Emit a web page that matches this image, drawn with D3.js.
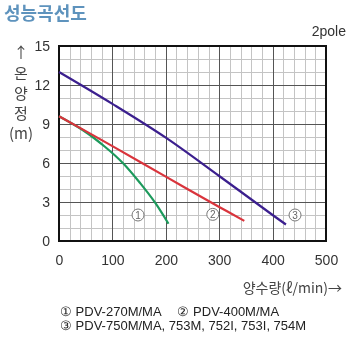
<!DOCTYPE html>
<html>
<head>
<meta charset="utf-8">
<script src="https://cdn.jsdelivr.net/npm/d3@7"></script>
<style>
  body { margin: 0; background: #fff; }
  #chart { position: relative; width: 360px; height: 337px; }
  #chart canvas, #chart svg { position: absolute; left: 0; top: 0; }
  svg { display: block; font-family: "Liberation Sans", Arial, sans-serif; }
</style>
</head>
<body>
<div id="chart"></div>
<script>
// flow (l/min) vs head (m)
const xTicks = [0, 100, 200, 300, 400, 500];
const yTicks = [0, 3, 6, 9, 12, 15];

const flow1 = [0, 45, 86, 120, 152, 180, 205];
const head1 = [9.6, 8.52, 7.25, 5.98, 4.45, 2.95, 1.33];
const flow2 = [0, 100, 200, 300, 347];
const head2 = [9.6, 7.3, 4.95, 2.62, 1.55];
const flow3 = [0, 100, 200, 300, 400, 425];
const head3 = [13, 10.55, 7.95, 5.0, 2.0, 1.27];

const legendRows = [
  '① PDV-270M/MA　 ② PDV-400M/MA',
  '③ PDV-750M/MA, 753M, 752I, 753I, 754M'
];

const W = 360, H = 337;
const plot = { left: 59, right: 326, top: 46, bottom: 241 };

const x = d3.scaleLinear().domain([0, 500]).range([plot.left, plot.right]);
const y = d3.scaleLinear().domain([0, 15]).range([plot.bottom, plot.top]);

// grid goes on a canvas under the svg
const canvas = d3.select('#chart').append('canvas')
    .attr('width', W).attr('height', H)
    .node();
const ctx = canvas.getContext('2d');
ctx.fillStyle = '#fff';
ctx.fillRect(0, 0, W, H);
function gridCanvas(xs, ys, color) {
  ctx.fillStyle = color;
  xs.forEach(v => ctx.fillRect(Math.round(x(v)), plot.top, 1, plot.bottom - plot.top));
  ys.forEach(v => ctx.fillRect(plot.left, Math.round(y(v)), plot.right - plot.left, 1));
}
gridCanvas(d3.range(0, 501, 20), d3.range(0, 16, 1), '#c4c4c4');
gridCanvas(xTicks, yTicks, '#555');

const svg = d3.select('#chart').append('svg')
    .attr('width', W)
    .attr('height', H);

// same grid in the svg as well
function gridBars(xs, ys, color) {
  const g = svg.append('g').attr('fill', color);
  g.selectAll('rect.gv').data(xs).enter().append('rect')
      .attr('class', 'gv')
      .attr('x', d => Math.round(x(d))).attr('y', plot.top)
      .attr('width', 1).attr('height', plot.bottom - plot.top);
  g.selectAll('rect.gh').data(ys).enter().append('rect')
      .attr('class', 'gh')
      .attr('x', plot.left).attr('y', d => Math.round(y(d)))
      .attr('width', plot.right - plot.left).attr('height', 1);
}
gridBars(d3.range(0, 501, 20), d3.range(0, 16, 1), '#c4c4c4');
gridBars(xTicks, yTicks, '#555');

// frame
svg.append('rect')
    .attr('x', plot.left).attr('y', plot.top)
    .attr('width', plot.right - plot.left).attr('height', plot.bottom - plot.top)
    .attr('fill', 'none').attr('stroke', '#111').attr('stroke-width', 2);

// axes (labels only)
const xAxis = d3.axisBottom(x).tickValues(xTicks).tickSize(0).tickPadding(14);
const yAxis = d3.axisLeft(y).tickValues(yTicks).tickSize(0).tickPadding(9);
svg.append('g').attr('transform', 'translate(0,' + plot.bottom + ')').call(xAxis)
    .call(g => g.select('.domain').remove())
    .call(g => g.selectAll('text').attr('font-size', 14).attr('fill', '#333')
        .attr('font-family', '"Liberation Sans", Arial, sans-serif'));
svg.append('g').attr('transform', 'translate(' + plot.left + ',0)').call(yAxis)
    .call(g => g.select('.domain').remove())
    .call(g => g.selectAll('text').attr('font-size', 14).attr('fill', '#333')
        .attr('font-family', '"Liberation Sans", Arial, sans-serif'));

// curves
const curve = d3.line()
    .x(d => x(d[0]))
    .y(d => y(d[1]))
    .curve(d3.curveCatmullRom);

const series = [
  { flow: flow1, head: head1, color: '#1c9a5c' },
  { flow: flow2, head: head2, color: '#d9343c' },
  { flow: flow3, head: head3, color: '#3b1f8e' }
];

series.forEach(s => {
  svg.append('path')
      .datum(d3.zip(s.flow, s.head))
      .attr('fill', 'none')
      .attr('stroke', s.color)
      .attr('stroke-width', 2.2)
      .attr('d', curve);
});

// circled numbers next to curve ends
const markAt = [[148, 2.0], [288, 2.05], [442, 2.0]];
markAt.forEach((p, i) => {
  const m = svg.append('g').attr('transform', 'translate(' + x(p[0]) + ',' + y(p[1]) + ')');
  m.append('circle').attr('r', 6).attr('fill', '#fff')
      .attr('stroke', '#777').attr('stroke-width', 1);
  m.append('text').attr('text-anchor', 'middle').attr('dy', '0.36em')
      .attr('font-size', 10).attr('fill', '#666').text(i + 1);
});

// title
svg.append('text')
    .attr('x', 4).attr('y', 20)
    .attr('font-family', '"Noto Sans CJK KR", sans-serif')
    .attr('font-weight', 'bold').attr('font-size', 18)
    .attr('fill', '#5e93bd')
    .text('성능곡선도');

svg.append('text')
    .attr('x', 346).attr('y', 36)
    .attr('text-anchor', 'end')
    .attr('font-size', 14).attr('fill', '#333')
    .text('2pole');

// y axis title, stacked
const yTitle = [['↑', 53], ['온', 74], ['양', 94], ['정', 114], ['(m)', 134]];
svg.selectAll('text.ytitle').data(yTitle).enter().append('text')
    .attr('class', 'ytitle')
    .attr('x', 21).attr('y', d => d[1])
    .attr('dy', '0.36em')
    .attr('text-anchor', 'middle')
    .attr('font-family', '"Noto Sans CJK KR", sans-serif')
    .attr('font-size', 15).attr('fill', '#444')
    .text(d => d[0]);

// x axis title
svg.append('text')
    .attr('x', 342).attr('y', 288)
    .attr('dy', '0.36em')
    .attr('text-anchor', 'end')
    .attr('font-family', '"Noto Sans CJK KR", sans-serif')
    .attr('font-size', 14).attr('fill', '#444')
    .text('양수량(ℓ/min)→');

// legend
svg.selectAll('text.legend').data(legendRows).enter().append('text')
    .attr('class', 'legend')
    .attr('x', 60).attr('y', (d, i) => 311 + i * 14)
    .attr('dy', '0.36em')
    .attr('font-size', 13).attr('fill', '#222')
    .text(d => d);
</script>
</body>
</html>
